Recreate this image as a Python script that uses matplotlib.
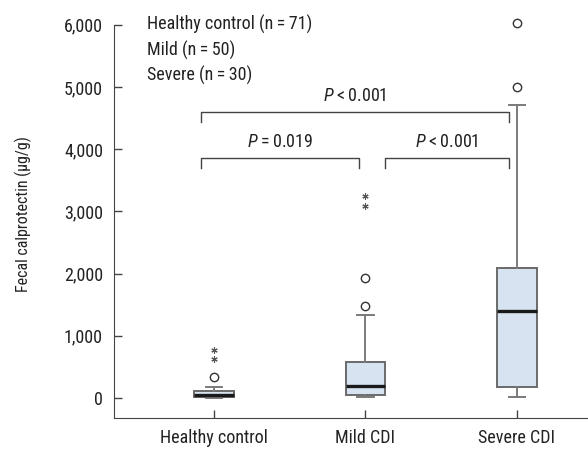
import matplotlib
matplotlib.use('Agg')
import matplotlib.pyplot as plt

plt.rcParams['font.family'] = ['Roboto Condensed', 'DejaVu Sans']
plt.rcParams['mathtext.fontset'] = 'custom'
plt.rcParams['mathtext.it'] = 'Roboto Condensed:italic'
plt.rcParams['mathtext.rm'] = 'Roboto Condensed'

# grupos e rótulos
groups = ['Healthy control', 'Mild CDI', 'Severe CDI']
legend_lines = ['Healthy control (n\u2009=\u200971)', 'Mild (n\u2009=\u200950)', 'Severe (n\u2009=\u200930)']

# estatísticas das caixas (µg/g)
whislo = [0, 15, 10]
q1 = [10, 50, 175]
med = [40, 190, 1400]
q3 = [110, 580, 2090]
whishi = [175, 1330, 4710]

# outliers (círculos) e extremos (asteriscos)
outliers = [[340], [1480, 1930], [5000, 6030]]
extremes = [[630, 770], [3090, 3240], []]

# comparações: início, fim, altura, valor de P
comparisons = [(0.914, 1.957, 3860, '=\u20090.019'),
               (2.13, 2.95, 3860, '<\u20090.001'),
               (0.914, 2.95, 4600, '<\u20090.001')]

yticks = [0, 1000, 2000, 3000, 4000, 5000, 6000]

fig = plt.figure(figsize=(5.88, 4.53), dpi=100)
ax = fig.add_axes([0.194, 0.0773, 0.806, 0.9007])

stats = []
for i in range(3):
    stats.append({'whislo': whislo[i], 'q1': q1[i], 'med': med[i], 'q3': q3[i],
                  'whishi': whishi[i], 'fliers': outliers[i]})

ax.bxp(stats, positions=[1, 2, 3], widths=0.26, patch_artist=True, capwidths=0.11,
       boxprops=dict(facecolor='#d7e3f1', edgecolor='#6a6a6a', linewidth=1.4),
       medianprops=dict(color='#1a1a1a', linewidth=2.4),
       whiskerprops=dict(color='#7a7a7a', linewidth=1.4),
       capprops=dict(color='#7a7a7a', linewidth=1.4),
       flierprops=dict(marker='o', markerfacecolor='white', markeredgecolor='#333333',
                       markersize=6, markeredgewidth=1.0))

for i in range(3):
    if extremes[i]:
        ax.plot([i + 1] * len(extremes[i]), extremes[i], linestyle='none',
                marker=(6, 2, 0), markersize=4.5, color='#555555', markeredgewidth=0.8)

# colchetes com valores de P
for x0, x1, y, rest in comparisons:
    ax.plot([x0, x0, x1, x1], [y - 160, y, y, y - 160], color='#444444', linewidth=1.0)
    ax.text((x0 + x1) / 2, y + 110, r'$P$' + '\u2009' + rest,
            ha='center', va='bottom', fontsize=13, color='#222222')

for k, line in enumerate(legend_lines):
    ax.text(0.555, 6000 - k * 410, line, ha='left', va='center', fontsize=13, color='#222222')

ax.set_xlim(0.34, 3.47)
ax.set_ylim(-322, 6238)
ax.set_xticks([1, 2, 3])
ax.set_xticklabels(groups)
ax.set_yticks(yticks)
ax.set_yticklabels([f'{v:,}' for v in yticks])
ax.tick_params(direction='in', length=6, width=1.0, color='#444444', labelsize=13,
               labelcolor='#222222', pad=8)
ax.set_ylabel('Fecal calprotectin (\u03bcg/g)', fontsize=11.5, color='#222222', labelpad=23)

for s in ['top', 'right']:
    ax.spines[s].set_visible(False)
ax.spines['left'].set_bounds(-322, 6000)
ax.spines['left'].set_color('#444444')
ax.spines['bottom'].set_color('#444444')

fig.savefig('out.png', dpi=100)
